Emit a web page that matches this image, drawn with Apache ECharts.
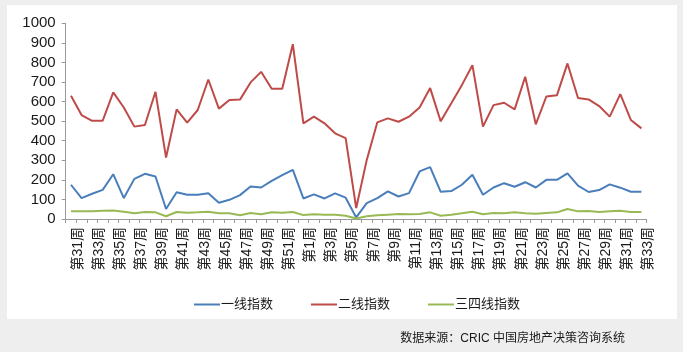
<!DOCTYPE html>
<html><head><meta charset="utf-8">
<script src="https://cdn.jsdelivr.net/npm/echarts@6/dist/echarts.min.js"></script>
<style>html,body{margin:0;padding:0;background:#eeeeee;}#c{width:683px;height:352px;}</style>
</head><body><div id="c"></div>
<script>
const weeks = [31,32,33,34,35,36,37,38,39,40,41,42,43,44,45,46,47,48,49,50,51,52,
  1,2,3,4,5,6,7,8,9,10,11,12,13,14,15,16,17,18,19,20,21,22,23,24,25,26,27,28,29,30,31,32,33];
const categories = weeks.map(w => '第' + w + '周');
const tier1 = [175,107,129,149,229,107,205,231,217,51,137,124,124,132,83,98,122,166,161,195,224,251,
  105,126,105,131,109,8,81,107,141,115,132,243,265,139,143,175,226,124,161,183,165,188,161,200,200,233,171,138,148,177,160,139,139];
const tier2 = [630,531,502,502,647,570,472,480,650,314,560,492,557,713,564,608,610,698,752,666,666,893,
  489,523,489,438,413,56,302,494,514,497,523,570,669,499,591,684,786,472,582,594,560,727,484,626,632,795,618,611,577,523,638,506,463];
const tier34 = [39,39,39,42,44,37,29,36,34,14,36,32,34,37,29,29,19,31,24,34,32,36,
  20,24,22,22,17,3,14,19,22,25,24,25,34,17,22,29,37,24,31,29,34,29,27,31,34,51,39,41,36,39,42,36,36];
const seriesNames = ['一线指数','二线指数','三四线指数'];
const colors = ['#4a7ebb','#be4b48','#98b954'];
const source = '数据来源：CRIC 中国房地产决策咨询系统';

const chart = echarts.init(document.getElementById('c'), null, {renderer:'canvas'});
const font = '"Liberation Sans", Arial, "Noto Sans CJK SC", sans-serif';
chart.setOption({
  animation:false,
  backgroundColor:'#eeeeee',
  textStyle:{fontFamily:font},
  graphic:[
    {type:'rect', z:-10, shape:{x:7,y:5,width:670,height:314}, style:{fill:'#ffffff'}},
    {type:'text', right:58, top:333, style:{text:source, font:'12px '+font, fill:'#1a1a1a'}}
  ],
  legend:{
    left:189, top:293, itemWidth:26, itemHeight:2, itemGap:38, icon:'rect',
    textStyle:{fontSize:13, color:'#1a1a1a', fontFamily:font, padding:[0,0,0,-4]},
    data:seriesNames
  },
  grid:{left:65.7, right:36.3, top:23.3, bottom:133, containLabel:false},
  xAxis:{
    type:'category', data:categories, boundaryGap:true,
    axisLine:{lineStyle:{color:'#9a9a9a'}},
    axisTick:{show:true, interval:0, length:4, lineStyle:{color:'#9a9a9a'}},
    axisLabel:{interval:1, rotate:90, fontSize:14, color:'#1a1a1a', margin:8, fontFamily:font, verticalAlign:'top'}
  },
  yAxis:{
    type:'value', min:0, max:1000, interval:100,
    axisLine:{show:true, lineStyle:{color:'#9a9a9a'}},
    axisTick:{show:true, length:4, lineStyle:{color:'#9a9a9a'}},
    splitLine:{show:false},
    axisLabel:{fontSize:15, color:'#1a1a1a', margin:10, fontFamily:font, formatter:v => String(v)}
  },
  series:[
    {name:seriesNames[0], type:'line', data:tier1, symbol:'none', lineStyle:{width:2, color:colors[0]}, itemStyle:{color:colors[0]}},
    {name:seriesNames[1], type:'line', data:tier2, symbol:'none', lineStyle:{width:2, color:colors[1]}, itemStyle:{color:colors[1]}},
    {name:seriesNames[2], type:'line', data:tier34, symbol:'none', lineStyle:{width:2, color:colors[2]}, itemStyle:{color:colors[2]}}
  ]
});
</script></body></html>
